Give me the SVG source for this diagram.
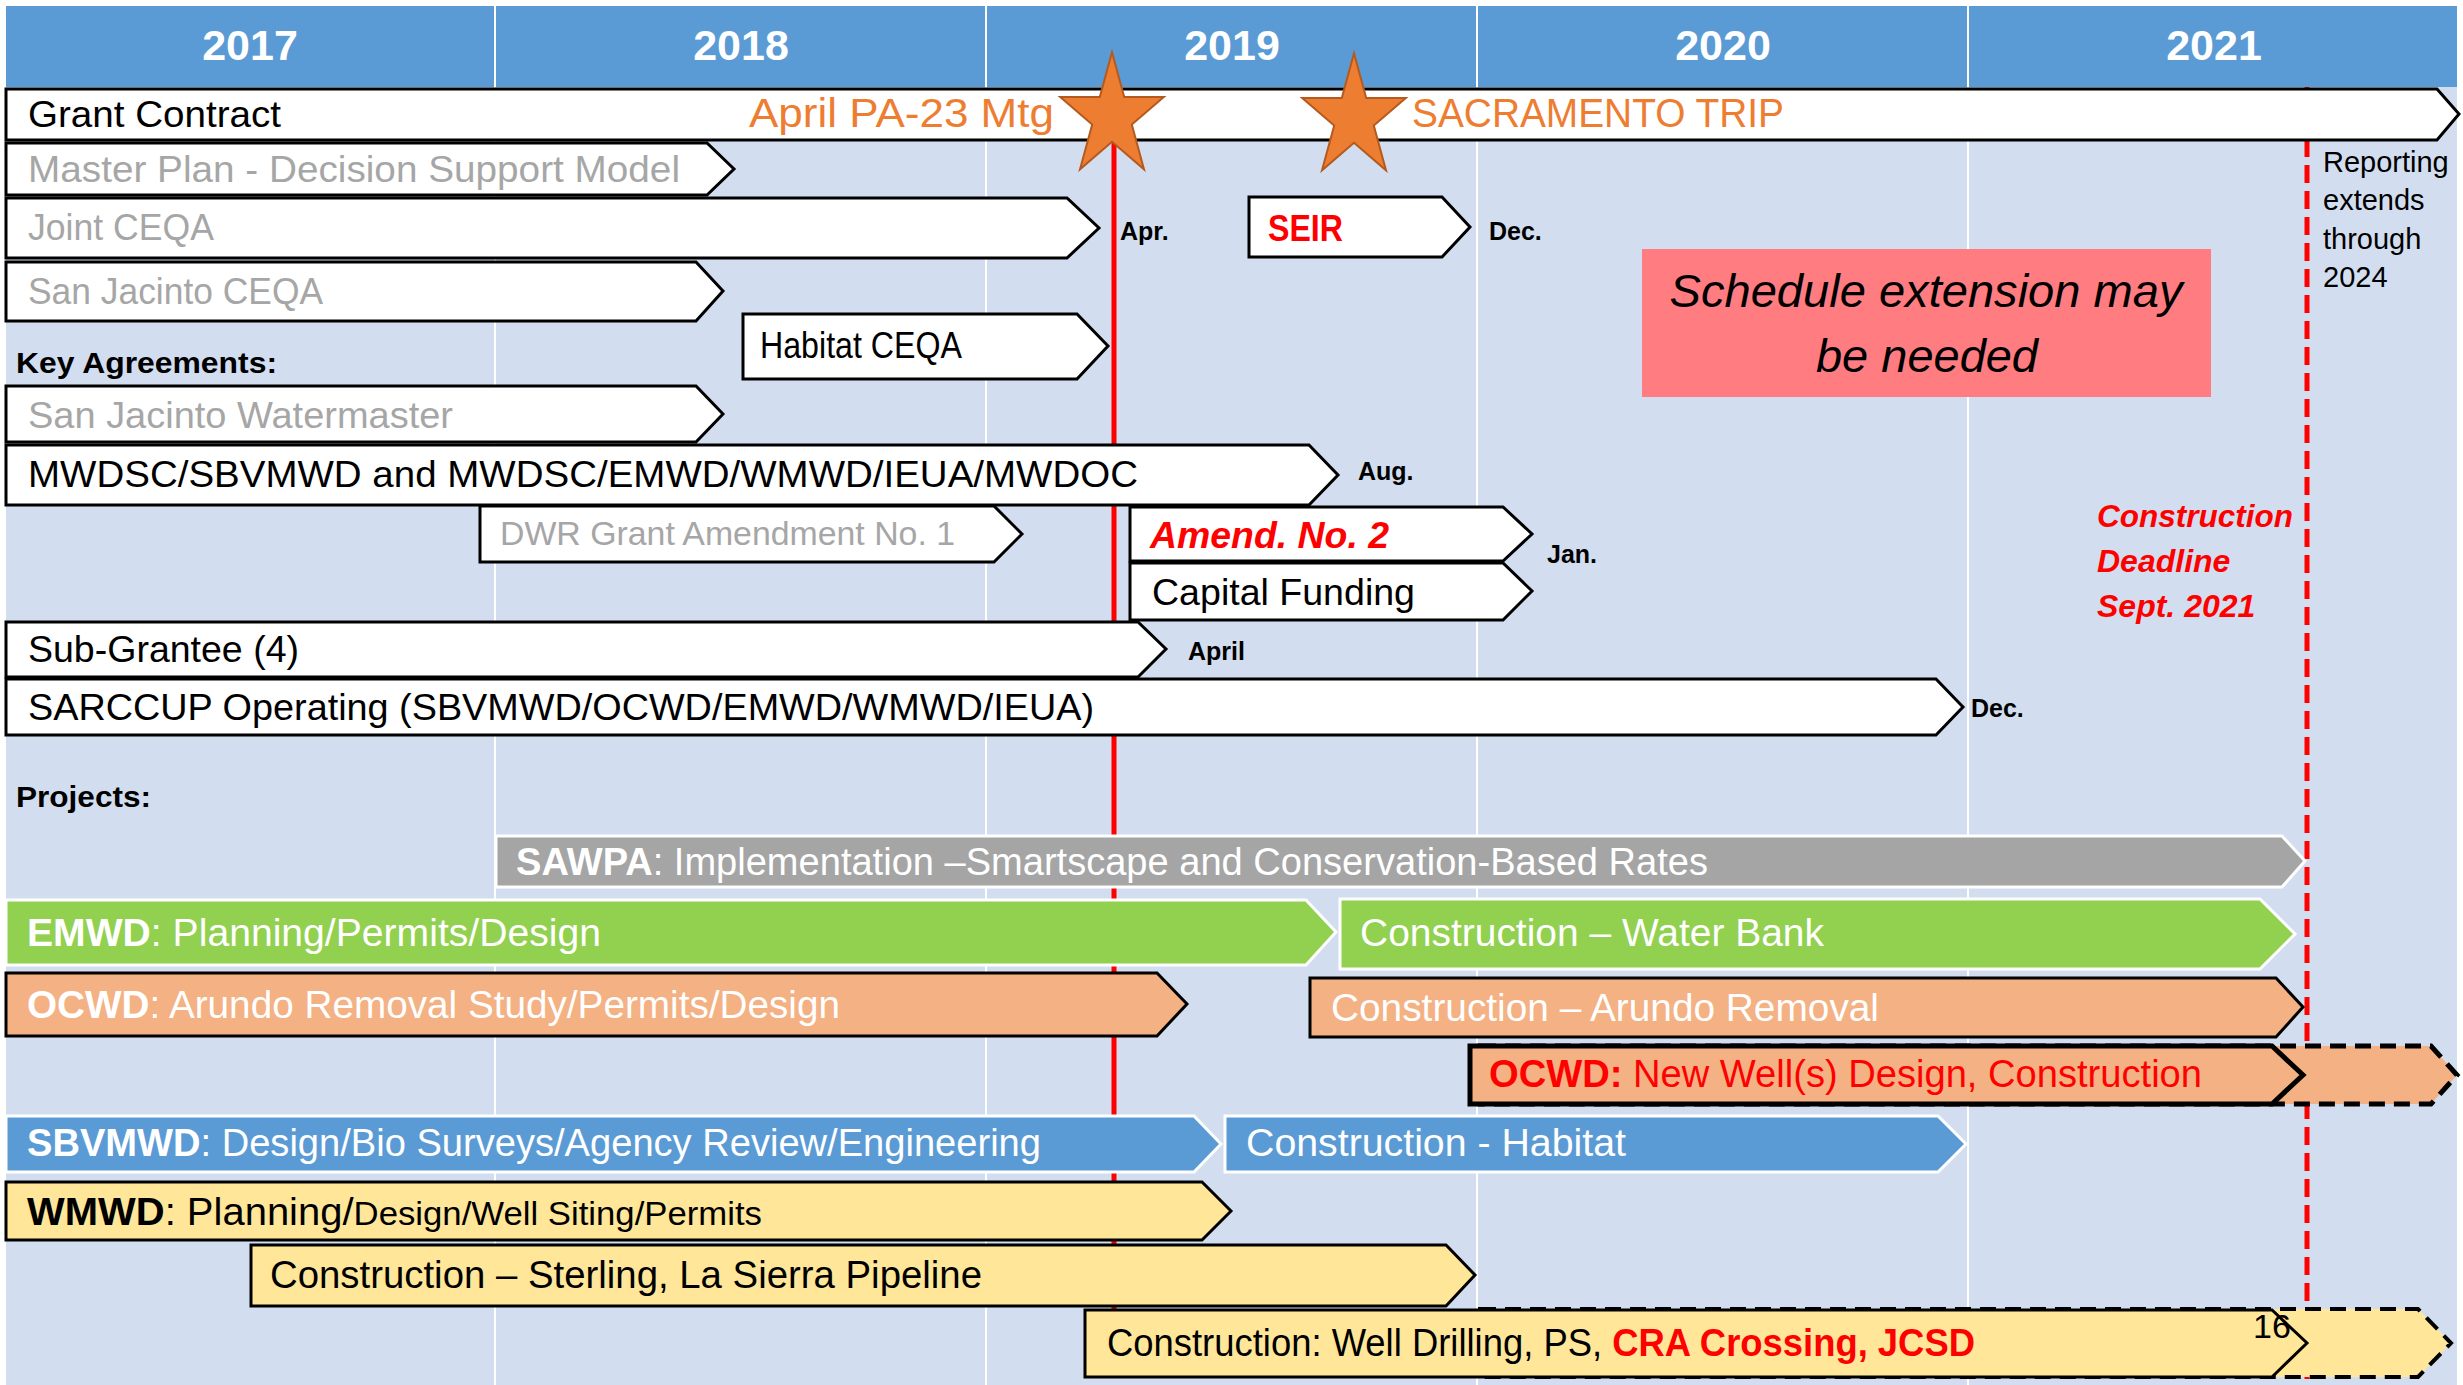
<svg xmlns="http://www.w3.org/2000/svg" width="2463" height="1385" viewBox="0 0 2463 1385">
<defs>
<style>
text{font-family:"Liberation Sans",Arial,sans-serif;}
.yr{font-size:43px;font-weight:bold;fill:#fff;text-anchor:middle;}
.lbl{font-size:37px;fill:#000;}
.gry{fill:#A6A6A6;}
.org{fill:#ED7D31;font-size:40px;}
.sm{font-size:25px;font-weight:bold;fill:#000;}
.hd{font-size:30px;font-weight:bold;fill:#000;}
.pj{font-size:38px;fill:#fff;}
.b{font-weight:bold;}
.red{fill:#FF0000;}
.wbar{fill:#fff;stroke:#000;stroke-width:3;stroke-linejoin:miter;}
.gray{fill:#A5A5A5;stroke:#fff;stroke-width:3;}
.green{fill:#92D050;stroke:#fff;stroke-width:3;}
.blue{fill:#5B9BD5;stroke:#fff;stroke-width:3;}
.orng{fill:#F4B183;stroke:#000;stroke-width:3;}
.yel{fill:#FFE699;stroke:#000;stroke-width:3;}
.grid{stroke:#fff;stroke-width:2;}
</style>
<polygon id="star" points="0,-64.7 12.2,-20 51.8,-20 19.8,7.6 32,52.3 0,24.7 -32,52.3 -19.8,7.6 -51.8,-20 -12.2,-20" fill="#ED7D31" stroke="#B45A1E" stroke-width="2" stroke-linejoin="miter"/>
</defs>
<rect x="0" y="0" width="2463" height="1385" fill="#fff"/>
<rect x="6" y="86" width="2451" height="1299" fill="#D2DEEF"/>
<g id="header">
<rect x="6" y="6" width="2451" height="81" fill="#5B9BD5"/>
<g class="grid">
<line x1="495" y1="6" x2="495" y2="1385"/>
<line x1="986" y1="6" x2="986" y2="1385"/>
<line x1="1477" y1="6" x2="1477" y2="1385"/>
<line x1="1968" y1="6" x2="1968" y2="1385"/>
</g>
<text class="yr" x="250" y="60">2017</text>
<text class="yr" x="741" y="60">2018</text>
<text class="yr" x="1232" y="60">2019</text>
<text class="yr" x="1723" y="60">2020</text>
<text class="yr" x="2214" y="60">2021</text>
</g>
<g id="connectors">
<line x1="1114" y1="140" x2="1114" y2="1320" stroke="#FF0000" stroke-width="5"/>
<line x1="2307" y1="87" x2="2307" y2="1385" stroke="#FF0000" stroke-width="5" stroke-dasharray="18 8"/>
</g>
<g id="grant-contract">
<polygon class="wbar" points="6,89 2437,89 2459,114 2437,140 6,140"/>
<text class="lbl" x="28" y="127" textLength="253" lengthAdjust="spacingAndGlyphs">Grant Contract</text>
<text class="org" x="749" y="127" textLength="305" lengthAdjust="spacingAndGlyphs">April PA-23 Mtg</text>
<text class="org" x="1412" y="127" textLength="372" lengthAdjust="spacingAndGlyphs">SACRAMENTO TRIP</text>
</g>
<g id="master-plan">
<polygon class="wbar" points="6,143 707,143 734,169 707,195 6,195"/>
<text class="lbl gry" x="28" y="182" textLength="652" lengthAdjust="spacingAndGlyphs">Master Plan - Decision Support Model</text>
</g>
<g id="joint-ceqa">
<polygon class="wbar" points="6,198 1067,198 1099,228 1067,258 6,258"/>
<text class="lbl gry" x="28" y="240" textLength="186" lengthAdjust="spacingAndGlyphs">Joint CEQA</text>
<text class="sm" x="1120" y="240">Apr.</text>
</g>
<g id="seir">
<polygon class="wbar" points="1249,197 1442,197 1470,227 1442,257 1249,257"/>
<text class="red b" x="1268" y="241" font-size="37" textLength="75" lengthAdjust="spacingAndGlyphs">SEIR</text>
<text class="sm" x="1489" y="240">Dec.</text>
</g>
<g id="san-jacinto-ceqa">
<polygon class="wbar" points="6,262 696,262 723,291 696,321 6,321"/>
<text class="lbl gry" x="28" y="304" textLength="295" lengthAdjust="spacingAndGlyphs">San Jacinto CEQA</text>
</g>
<g id="habitat-ceqa">
<polygon class="wbar" points="743,314 1077,314 1108,346 1077,379 743,379"/>
<text class="lbl" x="760" y="358" textLength="202" lengthAdjust="spacingAndGlyphs">Habitat CEQA</text>
</g>
<g id="key-agreements">
<text class="hd" x="16" y="373" textLength="261" lengthAdjust="spacingAndGlyphs">Key Agreements:</text>
</g>
<g id="schedule-note">
<rect x="1642" y="249" width="569" height="148" fill="#FF7C80"/>
<text x="1926" y="307" font-size="46" font-style="italic" text-anchor="middle" textLength="513" lengthAdjust="spacingAndGlyphs">Schedule extension may</text>
<text x="1927" y="372" font-size="46" font-style="italic" text-anchor="middle" textLength="222" lengthAdjust="spacingAndGlyphs">be needed</text>
</g>
<g id="reporting-note" font-size="29">
<text x="2323" y="172">Reporting</text>
<text x="2323" y="210">extends</text>
<text x="2323" y="249">through</text>
<text x="2323" y="287">2024</text>
</g>
<g id="sj-watermaster">
<polygon class="wbar" points="6,386 696,386 723,414 696,442 6,442"/>
<text class="lbl gry" x="28" y="428" textLength="425" lengthAdjust="spacingAndGlyphs">San Jacinto Watermaster</text>
</g>
<g id="mwdsc">
<polygon class="wbar" points="6,445 1309,445 1338,475 1309,505 6,505"/>
<text class="lbl" x="28" y="487" textLength="1110" lengthAdjust="spacingAndGlyphs">MWDSC/SBVMWD and MWDSC/EMWD/WMWD/IEUA/MWDOC</text>
<text class="sm" x="1358" y="480">Aug.</text>
</g>
<g id="dwr-amend-1">
<polygon class="wbar" points="480,506 994,506 1022,534 994,562 480,562"/>
<text class="gry" x="500" y="545" font-size="33" textLength="455" lengthAdjust="spacingAndGlyphs">DWR Grant Amendment No. 1</text>
</g>
<g id="amend-2">
<polygon class="wbar" points="1130,507 1503,507 1532,534 1503,561 1130,561"/>
<text class="red b" x="1150" y="548" font-size="36" font-style="italic" textLength="239" lengthAdjust="spacingAndGlyphs">Amend. No. 2</text>
</g>
<g id="capital-funding">
<polygon class="wbar" points="1130,563 1503,563 1532,591 1503,620 1130,620"/>
<text class="lbl" x="1152" y="605" textLength="263" lengthAdjust="spacingAndGlyphs">Capital Funding</text>
<text class="sm" x="1547" y="563">Jan.</text>
</g>
<g id="sub-grantee">
<polygon class="wbar" points="6,622 1138,622 1166,649 1138,677 6,677"/>
<text class="lbl" x="28" y="662" textLength="271" lengthAdjust="spacingAndGlyphs">Sub-Grantee (4)</text>
<text class="sm" x="1188" y="660">April</text>
</g>
<g id="sarccup">
<polygon class="wbar" points="6,679 1936,679 1963,707 1936,735 6,735"/>
<text class="lbl" x="28" y="720" textLength="1066" lengthAdjust="spacingAndGlyphs">SARCCUP Operating (SBVMWD/OCWD/EMWD/WMWD/IEUA)</text>
<text class="sm" x="1971" y="717">Dec.</text>
</g>
<g id="construction-deadline" class="red b" font-size="32" font-style="italic">
<text x="2097" y="527" textLength="196" lengthAdjust="spacingAndGlyphs">Construction</text>
<text x="2097" y="572">Deadline</text>
<text x="2097" y="617">Sept. 2021</text>
</g>
<g id="projects">
<text class="hd" x="16" y="807" textLength="135" lengthAdjust="spacingAndGlyphs">Projects:</text>
</g>
<g id="sawpa">
<polygon class="gray" points="496,836 2282,836 2305,861 2282,887 496,887"/>
<text class="pj" x="516" y="875" textLength="1192" lengthAdjust="spacingAndGlyphs"><tspan class="b">SAWPA</tspan>: Implementation –Smartscape and Conservation-Based Rates</text>
</g>
<g id="emwd-design">
<polygon class="green" points="6,900 1306,900 1336,932 1306,965 6,965"/>
<text class="pj" x="27" y="946" textLength="574" lengthAdjust="spacingAndGlyphs"><tspan class="b">EMWD</tspan>: Planning/Permits/Design</text>
</g>
<g id="emwd-construction">
<polygon class="green" points="1340,899 2260,899 2295,934 2260,969 1340,969"/>
<text class="pj" x="1360" y="946" textLength="464" lengthAdjust="spacingAndGlyphs">Construction – Water Bank</text>
</g>
<g id="ocwd-design">
<polygon class="orng" points="6,973 1157,973 1187,1004 1157,1036 6,1036"/>
<text class="pj" x="27" y="1018" textLength="813" lengthAdjust="spacingAndGlyphs"><tspan class="b">OCWD</tspan>: Arundo Removal Study/Permits/Design</text>
</g>
<g id="ocwd-arundo">
<polygon class="orng" points="1310,978 2276,978 2303,1007 2276,1037 1310,1037"/>
<text class="pj" x="1331" y="1021" textLength="548" lengthAdjust="spacingAndGlyphs">Construction – Arundo Removal</text>
</g>
<g id="ocwd-wells">
<polygon points="1480,1046 2431,1046 2457,1075 2431,1104 1480,1104" fill="#F4B183" stroke="#000" stroke-width="5" stroke-dasharray="16 9"/>
<polygon points="1470,1046 2272,1046 2303,1075 2272,1104 1470,1104" fill="#F4B183" stroke="#000" stroke-width="5"/>
<text class="red" x="1489" y="1087" font-size="38" textLength="713" lengthAdjust="spacingAndGlyphs"><tspan class="b">OCWD:</tspan> New Well(s) Design, Construction</text>
</g>
<g id="sbvmwd-design">
<polygon class="blue" points="6,1116 1194,1116 1221,1144 1194,1172 6,1172"/>
<text class="pj" x="27" y="1156" textLength="1014" lengthAdjust="spacingAndGlyphs"><tspan class="b">SBVMWD</tspan>: Design/Bio Surveys/Agency Review/Engineering</text>
</g>
<g id="sbvmwd-habitat">
<polygon class="blue" points="1225,1116 1938,1116 1966,1144 1938,1172 1225,1172"/>
<text class="pj" x="1246" y="1156" textLength="380" lengthAdjust="spacingAndGlyphs">Construction - Habitat</text>
</g>
<g id="wmwd-design">
<polygon class="yel" points="6,1182 1202,1182 1231,1211 1202,1240 6,1240"/>
<text x="27" y="1225" font-size="38" fill="#000" textLength="735" lengthAdjust="spacingAndGlyphs"><tspan class="b">WMWD</tspan>: Planning/<tspan font-size="33">Design/Well Siting/Permits</tspan></text>
</g>
<g id="wmwd-sterling">
<polygon class="yel" points="251,1245 1446,1245 1475,1275 1446,1306 251,1306"/>
<text x="270" y="1288" font-size="38" fill="#000" textLength="712" lengthAdjust="spacingAndGlyphs">Construction – Sterling, La Sierra Pipeline</text>
</g>
<g id="wmwd-wells">
<polygon points="1480,1309 2418,1309 2451,1343 2418,1377 1480,1377" fill="#FFE699" stroke="#000" stroke-width="4" stroke-dasharray="16 9"/>
<polygon points="1085,1310 2272,1310 2307,1343 2272,1377 1085,1377" fill="#FFE699" stroke="#000" stroke-width="3"/>
<text x="1107" y="1356" font-size="38" fill="#000" textLength="868" lengthAdjust="spacingAndGlyphs">Construction: Well Drilling, PS, <tspan class="red b">CRA Crossing, JCSD</tspan></text>
<text x="2253" y="1338" font-size="34" fill="#000">16</text>
</g>
<g id="stars">
<use href="#star" transform="translate(1112,117)"/>
<use href="#star" transform="translate(1354,118)"/>
</g>
</svg>
